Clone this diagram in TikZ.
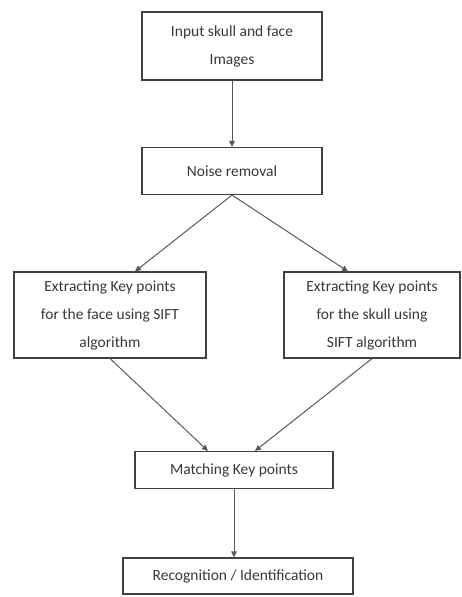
\documentclass[tikz,border=0pt]{standalone}
\usepackage{fontspec}
\setmainfont{Carlito}
\usepackage{xcolor}
\usetikzlibrary{arrows.meta,positioning}

\begin{document}
\begin{tikzpicture}[
  x=1pt, y=-1pt,
  font=\fontsize{15.5}{28}\selectfont,
  stage/.style={draw=black!75, line width=1.1pt, align=center, text=black!78, inner sep=2pt},
  arrow/.style={-{Triangle[length=6pt,width=5.5pt]}, draw=black!65, line width=1pt}
]
\useasboundingbox (0,0) rectangle (461,597);

\node[stage, minimum width=180pt, minimum height=68pt] (input) at (232,46) {Input skull and face\\Images};
\node[stage, minimum width=180pt, minimum height=47pt] (noise) at (232,171) {Noise removal};
\node[stage, minimum width=192pt, minimum height=86pt] (facekp) at (110,315) {Extracting Key points\\for the face using SIFT\\algorithm};
\node[stage, minimum width=176pt, minimum height=86pt] (skullkp) at (372,315) {Extracting Key points\\for the skull using\\SIFT algorithm};
\node[stage, minimum width=198pt, minimum height=37pt] (match) at (234,470) {Matching Key points};
\node[stage, minimum width=230pt, minimum height=36pt] (recog) at (238,576) {Recognition / Identification};

\draw[arrow] (input) -- (noise);
\draw[arrow] (noise.south) -- ([xshift=25pt]facekp.north);
\draw[arrow] (noise.south) -- ([xshift=-24pt]skullkp.north);
\draw[arrow] (facekp.south) -- ([xshift=-26pt]match.north);
\draw[arrow] (skullkp.south) -- ([xshift=21pt]match.north);
\draw[arrow] (match.south) -- (match.south |- recog.north);
\end{tikzpicture}
\end{document}
